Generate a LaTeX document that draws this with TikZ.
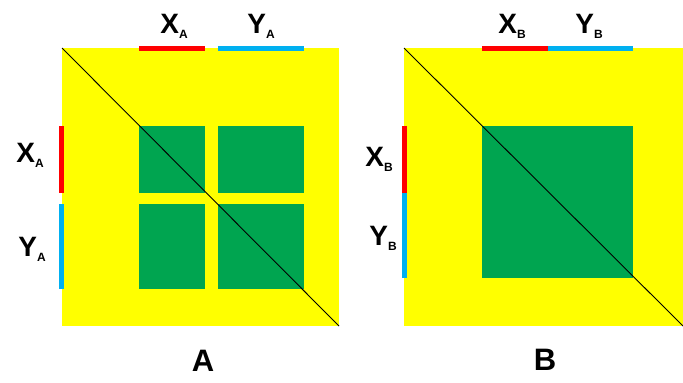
\documentclass[tikz,border=0pt]{standalone}
\usepackage{fontspec}
\setmainfont{Liberation Sans}
\usetikzlibrary{positioning}
\definecolor{plotyellow}{RGB}{255,255,0}
\definecolor{blockgreen}{RGB}{0,165,80}
\definecolor{barred}{RGB}{255,0,0}
\definecolor{barblue}{RGB}{0,176,240}
\newcommand{\sublbl}[2]{#1\raisebox{-5pt}{\fontsize{12}{12}\selectfont #2}}

\begin{document}
\begin{tikzpicture}[x=1pt,y=-1pt,
  bar/.style={line width=5pt},
  axislbl/.style={font=\fontsize{28}{28}\selectfont\bfseries,inner sep=0pt,anchor=base},
  panellbl/.style={font=\fontsize{31}{31}\selectfont\bfseries,inner sep=0pt,anchor=base}]
  \useasboundingbox (0,0) rectangle (683,383);
  % panel A
  \fill[plotyellow] (62,48) rectangle (339,326);
  \fill[blockgreen] (139,126) rectangle (205,193);
  \fill[blockgreen] (218,126) rectangle (304,193);
  \fill[blockgreen] (139,204) rectangle (205,289);
  \fill[blockgreen] (218,204) rectangle (304,289);
  \draw[line width=0.9pt] (62,48) -- (339,326);
  \draw[bar,barred] (139,48) -- (205,48);
  \draw[bar,barblue] (218,48) -- (304,48);
  \draw[bar,barred] (61,126) -- (61,193);
  \draw[bar,barblue] (61,204) -- (61,289);
  \node[axislbl] (xa top) at (174,33) {\sublbl{X}{A}};
  \node[axislbl] (ya top) at (261,33) {\sublbl{Y}{A}};
  \node[axislbl] (xa left) at (30,162) {\sublbl{X}{A}};
  \node[axislbl] (ya left) at (32,256) {\sublbl{Y}{A}};
  \node[panellbl] (panel a) at (203,371) {A};
  % panel B
  \fill[plotyellow] (404,48) rectangle (683,326);
  \fill[blockgreen] (482,126) rectangle (633,278);
  \draw[line width=0.9pt] (404,48) -- (683,326);
  \draw[bar,barred] (482,48) -- (548,48);
  \draw[bar,barblue] (548,48) -- (633,48);
  \draw[bar,barred] (404,126) -- (404,193);
  \draw[bar,barblue] (404,193) -- (404,278);
  \node[axislbl] (xb top) at (512,33) {\sublbl{X}{B}};
  \node[axislbl] (yb top) at (589,33) {\sublbl{Y}{B}};
  \node[axislbl] (xb left) at (379,166) {\sublbl{X}{B}};
  \node[axislbl] (yb left) at (383,245) {\sublbl{Y}{B}};
  \node[panellbl] (panel b) at (545,370) {B};
\end{tikzpicture}
\end{document}
